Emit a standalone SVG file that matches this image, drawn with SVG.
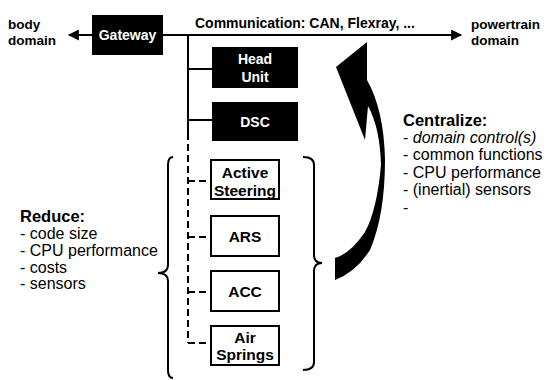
<svg xmlns="http://www.w3.org/2000/svg" width="558" height="380" viewBox="0 0 558 380">
  <style>
    text { font-family: "Liberation Sans", Arial, sans-serif; fill: #000; }
    .lbl { font-size: 14px; font-weight: bold; }
    .dom { font-size: 13.5px; font-weight: bold; }
    .wlbl { font-size: 14px; font-weight: bold; fill: #fff; text-anchor: middle; }
    .blbl { font-size: 15.5px; font-weight: bold; text-anchor: middle; }
    .list { font-size: 16px; }
    .head { font-size: 16.5px; font-weight: bold; }
    .ecu-dark { fill: #000; }
    .ecu-light { fill: #fff; stroke: #000; stroke-width: 2; }
    .wire { stroke: #000; stroke-width: 2; fill: none; }
    .dash { stroke: #000; stroke-width: 2; fill: none; stroke-dasharray: 7 4; }
    .brace { stroke: #000; stroke-width: 2; fill: none; }
  </style>
  <defs>
    <marker id="arr" viewBox="0 0 10 10" refX="9" refY="5" markerWidth="6" markerHeight="5.5" orient="auto" markerUnits="strokeWidth">
      <path d="M0,0 L10,5 L0,10 z" fill="#000"/>
    </marker>
  </defs>
  <rect width="558" height="380" fill="#fff"/>

  <!-- bus and drop lines -->
  <g id="connectors">
    <line class="wire" x1="92" y1="35" x2="69" y2="35" marker-end="url(#arr)"/>
    <line class="wire" x1="163" y1="35" x2="461" y2="35" marker-end="url(#arr)"/>
    <line class="wire" x1="188" y1="35" x2="188" y2="140"/>
    <line class="dash" x1="188" y1="144" x2="188" y2="343"/>
    <line class="wire" x1="188" y1="69" x2="212" y2="69"/>
    <line class="wire" x1="188" y1="120" x2="212" y2="120"/>
    <line class="dash" x1="188" y1="181" x2="211" y2="181"/>
    <line class="dash" x1="188" y1="237" x2="211" y2="237"/>
    <line class="dash" x1="188" y1="292" x2="211" y2="292"/>
    <line class="dash" x1="188" y1="343" x2="211" y2="343"/>
  </g>

  <g id="body-domain">
    <text class="dom" x="8" y="29">body</text>
    <text class="dom" x="8" y="45">domain</text>
  </g>
  <g id="powertrain-domain">
    <text class="dom" x="471" y="29">powertrain</text>
    <text class="dom" x="471" y="45">domain</text>
  </g>
  <g id="bus-label">
    <text class="lbl" x="195" y="28" font-size="14.4">Communication: CAN, Flexray, ...</text>
  </g>

  <g id="gateway">
    <rect class="ecu-dark" x="92" y="15" width="71" height="40"/>
    <text class="wlbl" x="127.5" y="40">Gateway</text>
  </g>
  <g id="head-unit">
    <rect class="ecu-dark" x="212" y="47" width="86" height="41"/>
    <text class="wlbl" x="255" y="64">Head</text>
    <text class="wlbl" x="255" y="82">Unit</text>
  </g>
  <g id="dsc">
    <rect class="ecu-dark" x="212" y="102" width="86" height="39"/>
    <text class="wlbl" x="255" y="127">DSC</text>
  </g>

  <g id="active-steering">
    <rect class="ecu-light" x="211" y="160" width="68" height="39"/>
    <text class="blbl" x="245" y="178">Active</text>
    <text class="blbl" x="245" y="196">Steering</text>
  </g>
  <g id="ars">
    <rect class="ecu-light" x="211" y="216" width="68" height="40"/>
    <text class="blbl" x="245" y="242">ARS</text>
  </g>
  <g id="acc">
    <rect class="ecu-light" x="211" y="271" width="68" height="40"/>
    <text class="blbl" x="245" y="297">ACC</text>
  </g>
  <g id="air-springs">
    <rect class="ecu-light" x="211" y="326" width="68" height="39"/>
    <text class="blbl" x="245" y="343">Air</text>
    <text class="blbl" x="245" y="360">Springs</text>
  </g>

  <!-- grouping braces -->
  <path class="brace" d="M173,157 Q168,157 168,165 L168,265 Q168,273 158,273 Q168,273 168,281 L168,370 Q168,378 173,378"/>
  <path class="brace" d="M303,157 Q314,157 314,165 L314,255 Q314,263 322,263 Q314,263 314,271 L314,362 Q314,370 303,370"/>

  <!-- centralisation arrow -->
  <path fill="#000" d="M335,280 L335,258 Q350,254 365,232 Q377,210 381,165 Q380,128 368,106 L365,140 L336,67 L367,42 L367,80 Q384,110 385,160 Q385,215 370,250 Q356,272 335,280 Z"/>

  <g id="reduce">
    <text class="head" x="20" y="222">Reduce:</text>
    <text class="list" x="20" y="239">- code size</text>
    <text class="list" x="20" y="256">- CPU performance</text>
    <text class="list" x="20" y="273">- costs</text>
    <text class="list" x="20" y="289">- sensors</text>
  </g>

  <g id="centralize">
    <text class="head" x="403" y="126">Centralize:</text>
    <text class="list" x="403" y="143">- <tspan font-style="italic">domain control(s)</tspan></text>
    <text class="list" x="403" y="160">- common functions</text>
    <text class="list" x="403" y="178">- CPU performance</text>
    <text class="list" x="403" y="195">- (inertial) sensors</text>
    <text class="list" x="403" y="213">-</text>
  </g>
</svg>
